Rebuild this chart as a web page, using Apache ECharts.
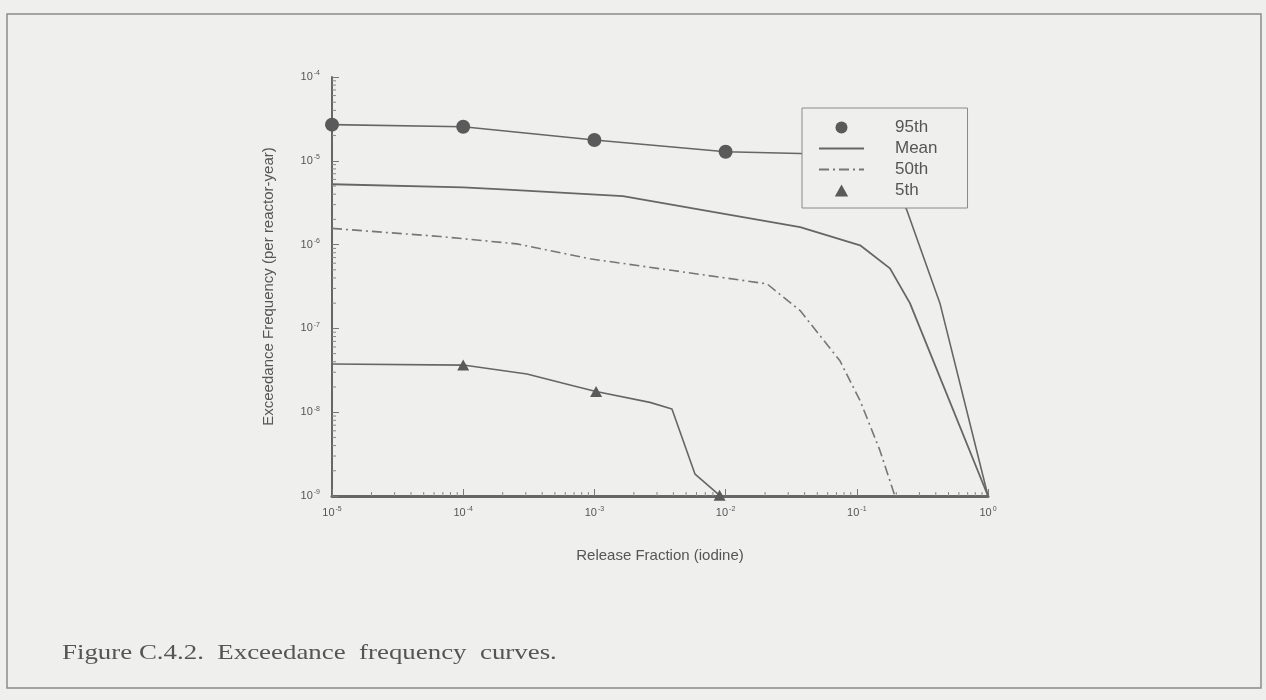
<!DOCTYPE html>
<html>
<head>
<meta charset="utf-8">
<script src="https://cdn.jsdelivr.net/npm/echarts@6/dist/echarts.min.js"></script>
<style>
  html, body { margin: 0; padding: 0; background: #efefed; }
  #chart { width: 1266px; height: 700px; }
</style>
</head>
<body>
<div id="chart"></div>
<script>
// release fraction (x) and exceedance frequency (y)
const p95X = [1e-5, 1e-4, 1e-3, 1e-2, 0.037, 0.1, 0.17, 0.24, 0.43, 1];
const p95Y = [2.7e-5, 2.55e-5, 1.77e-5, 1.28e-5, 1.22e-5, 1.1e-5, 9.3e-6, 2.6e-6, 2.0e-7, 1e-9];
const p95Marks = [0, 1, 2, 3];

const meanX = [1e-5, 1e-4, 2.16e-4, 1.65e-3, 8.0e-3, 0.037, 0.106, 0.179, 0.254, 1];
const meanY = [5.25e-6, 4.83e-6, 4.54e-6, 3.78e-6, 2.45e-6, 1.62e-6, 9.8e-7, 5.2e-7, 2.0e-7, 1e-9];

const p50X = [1e-5, 6.65e-5, 2.57e-4, 9.25e-4, 3.98e-3, 0.0207, 0.037, 0.0744, 0.106, 0.15, 0.195];
const p50Y = [1.56e-6, 1.25e-6, 1.02e-6, 6.77e-7, 4.9e-7, 3.4e-7, 1.63e-7, 4.1e-8, 1.37e-8, 3.5e-9, 1e-9];

const p5X = [1e-5, 1e-4, 3.06e-4, 6.87e-4, 1.03e-3, 2.65e-3, 3.9e-3, 5.85e-3, 9.0e-3];
const p5Y = [3.76e-8, 3.65e-8, 2.86e-8, 2.07e-8, 1.77e-8, 1.31e-8, 1.09e-8, 1.82e-9, 1.02e-9];
const p5Marks = [1, 4, 8];

const xDecades = [-5, -4, -3, -2, -1];
const yDecades = [-9, -8, -7, -6, -5];
const minorSteps = [2, 3, 4, 5, 6, 7, 8, 9];

const ink = '#555555';
const font = 'Liberation Sans, Arial, sans-serif';
const triPath = 'path://M5,0 L10,9 L0,9 Z';

function toData(xs, ys, marks, symbol) {
  return xs.map((x, i) => ({
    value: [x, ys[i]],
    symbol: marks && marks.indexOf(i) >= 0 ? symbol : 'none'
  }));
}

function minorValues(decades) {
  const out = [];
  decades.forEach(d => minorSteps.forEach(m => out.push(m * Math.pow(10, d))));
  return out;
}

function powLabel(v) {
  const e = Math.round(Math.log10(v));
  return '{b|10}{s|' + e + '}';
}

const labelRich = {
  b: { fontSize: 11, color: ink, fontFamily: font, lineHeight: 14 },
  s: { fontSize: 7, color: ink, fontFamily: font, verticalAlign: 'top', lineHeight: 8, padding: [0, 0, 6, 1] }
};

const xMinor = minorValues(xDecades);
const yMinor = minorValues(yDecades);

const chart = echarts.init(document.getElementById('chart'));
chart.setOption({
  backgroundColor: '#efefed',
  animation: false,
  grid: { left: 332, top: 77, width: 656, height: 419, containLabel: false },
  legend: {
    data: [
      { name: '95th', icon: 'circle' },
      { name: 'Mean', itemStyle: { opacity: 0 } },
      { name: '50th', itemStyle: { opacity: 0 } },
      { name: '5th', icon: triPath }
    ],
    orient: 'vertical',
    left: 802,
    top: 108,
    padding: [11, 30, 9, 16],
    itemWidth: 45,
    itemHeight: 12,
    itemGap: 4,
    backgroundColor: '#efefed',
    borderColor: '#8a8a8a',
    borderWidth: 1,
    selectedMode: false,
    textStyle: { fontSize: 17, color: ink, fontFamily: font, padding: [0, 0, 0, 26] }
  },
  xAxis: {
    type: 'log',
    logBase: 10,
    min: 1e-5,
    max: 1,
    name: 'Release Fraction (iodine)',
    nameLocation: 'middle',
    nameGap: 52,
    nameTextStyle: { fontSize: 15, color: ink, fontFamily: font },
    axisLine: { lineStyle: { color: '#666', width: 3 } },
    axisTick: { inside: true, length: 7, lineStyle: { color: '#777', width: 1 } },
    axisLabel: { formatter: powLabel, rich: labelRich, margin: 10 },
    splitLine: { show: false }
  },
  yAxis: {
    type: 'log',
    logBase: 10,
    min: 1e-9,
    max: 1e-4,
    interval: 1,
    name: 'Exceedance Frequency (per reactor-year)',
    nameLocation: 'middle',
    nameGap: 56,
    nameTextStyle: { fontSize: 15, color: ink, fontFamily: font },
    axisLine: { lineStyle: { color: '#666', width: 2 } },
    axisTick: { inside: true, length: 7, lineStyle: { color: '#777', width: 1 } },
    axisLabel: { formatter: powLabel, rich: labelRich, margin: 12 },
    splitLine: { show: false }
  },
  series: [
    {
      name: '95th',
      type: 'line',
      data: toData(p95X, p95Y, p95Marks, 'circle'),
      symbolSize: 14,
      itemStyle: { color: '#5a5a5a' },
      lineStyle: { color: '#666', width: 1.6 },
      z: 3
    },
    {
      name: 'Mean',
      type: 'line',
      symbol: 'none',
      data: toData(meanX, meanY),
      itemStyle: { color: '#666' },
      lineStyle: { color: '#666', width: 1.8 },
      z: 3
    },
    {
      name: '50th',
      type: 'line',
      symbol: 'none',
      data: toData(p50X, p50Y),
      itemStyle: { color: '#777' },
      lineStyle: { color: '#777', width: 1.6, type: [10, 4, 2, 4] },
      z: 3
    },
    {
      name: '5th',
      type: 'line',
      data: toData(p5X, p5Y, p5Marks, triPath),
      symbolSize: [12, 11],
      itemStyle: { color: '#5a5a5a' },
      lineStyle: { color: '#666', width: 1.6 },
      z: 3
    },
    {
      name: 'xMinor',
      type: 'custom',
      silent: true,
      data: xMinor.map(v => [v, 1e-9]),
      renderItem: (params, api) => {
        const p = api.coord([api.value(0), api.value(1)]);
        return { type: 'line', shape: { x1: p[0], y1: p[1], x2: p[0], y2: p[1] - 4 },
          style: { stroke: '#888', lineWidth: 1 } };
      },
      z: 2
    },
    {
      name: 'yMinor',
      type: 'custom',
      silent: true,
      data: yMinor.map(v => [1e-5, v]),
      renderItem: (params, api) => {
        const p = api.coord([api.value(0), api.value(1)]);
        return { type: 'line', shape: { x1: p[0], y1: p[1], x2: p[0] + 4, y2: p[1] },
          style: { stroke: '#888', lineWidth: 1 } };
      },
      z: 2
    }
  ],
  graphic: [
    {
      type: 'rect',
      shape: { x: 7, y: 14, width: 1254, height: 674 },
      style: { fill: 'none', stroke: '#8c8c8c', lineWidth: 1.5 },
      silent: true
    },
    {
      type: 'text',
      x: 62,
      y: 643,
      scaleX: 1.28,
      style: {
        text: 'Figure C.4.2.  Exceedance  frequency  curves.',
        font: '21px "Liberation Serif", "Times New Roman", serif',
        fill: '#555'
      },
      silent: true
    }
  ]
});
</script>
</body>
</html>
